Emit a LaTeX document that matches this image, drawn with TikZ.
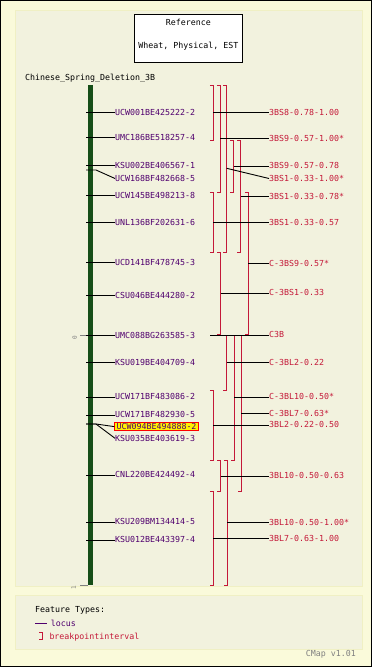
\documentclass[tikz,border=0pt]{standalone}
\usepackage{fontspec}
\setmonofont{DejaVu Sans Mono}
\definecolor{pagebg}{RGB}{250,250,218}
\definecolor{panelbg}{RGB}{242,242,222}
\definecolor{panelrim}{RGB}{240,240,196}
\definecolor{chromgreen}{RGB}{22,78,24}
\definecolor{locuscol}{RGB}{80,0,110}
\definecolor{intcol}{RGB}{196,24,56}
\begin{document}
\begin{tikzpicture}[
		x=1pt, y=-1pt,
		font=\ttfamily\fontsize{8.3}{9}\selectfont,
		txt/.style={inner sep=0pt, text height=5.5pt, text depth=0pt},
		locus/.style={txt, anchor=west, text=locuscol},
		interval/.style={txt, anchor=west, text=intcol},
		tie/.style={draw=black, line width=0.9pt},
		bpint/.style={draw=intcol, line width=0.9pt},
		scalemark/.style={draw=gray, line width=0.9pt}
	]
	\useasboundingbox (0,0) rectangle (372,667);
	% Hintergrund und Felder
	\draw[fill=pagebg, line width=1pt] (0.5,0.5) rectangle (371.5,666.5);
	\draw[fill=panelbg, draw=panelrim, line width=1pt] (15,10) rectangle (362,586);
	\draw[fill=panelbg, draw=panelrim, line width=1pt] (15,595) rectangle (362,649);

	% Titelkasten
	\draw[fill=white, line width=1pt] (134.3,14.3) rectangle (242.3,62.3);
	\node[txt] (ref) at (188.3,22.3) {Reference};
	\node[txt] (refmap) at (188.3,45.7) {Wheat, Physical, EST};
	\node[txt, anchor=west] (chrom) at (25,77.3) {Chinese\_Spring\_Deletion\_3B};

	% Chromosom
	\fill[chromgreen] (88.3,85) rectangle (92.7,585);
	\draw[scalemark] (80,335.3) -- (88.3,335.3);
	\draw[scalemark] (80,585) -- (88.3,585);
	\node[txt, rotate=90, text=gray, font=\ttfamily\fontsize{6}{7}\selectfont] (zero) at (74,338) {0};
	\node[txt, rotate=90, text=gray, font=\ttfamily\fontsize{6}{7}\selectfont] (one) at (73,588) {1};

	% Loci
	\node[locus] (l1) at (115,112.3) {UCW001BE425222-2};
	\node[locus] (l2) at (115,137.3) {UMC186BE518257-4};
	\node[locus] (l3) at (115,165.3) {KSU002BE406567-1};
	\node[locus] (l4) at (115,178.5) {UCW168BF482668-5};
	\node[locus] (l5) at (115,195.3) {UCW145BE498213-8};
	\node[locus] (l6) at (115,222.3) {UNL136BF202631-6};
	\node[locus] (l7) at (115,262.3) {UCD141BF478745-3};
	\node[locus] (l8) at (115,295.3) {CSU046BE444280-2};
	\node[locus] (l9) at (115,335.3) {UMC088BG263585-3};
	\node[locus] (l10) at (115,362.3) {KSU019BE404709-4};
	\node[locus] (l11) at (115,397) {UCW171BF483086-2};
	\node[locus] (l12) at (115,415) {UCW171BF482930-5};
	\node[locus, fill=yellow, draw=red, line width=0.9pt, inner xsep=1.8pt, inner ysep=1.4pt] (l13) at (114.3,426.6) {UCW094BE494888-2};
	\node[locus] (l14) at (115,438.3) {KSU035BE403619-3};
	\node[locus] (l15) at (115,475) {CNL220BE424492-4};
	\node[locus] (l16) at (115,522) {KSU209BM134414-5};
	\node[locus] (l17) at (115,540) {KSU012BE443397-4};

	\coordinate (t1) at (86,112.3);
	\coordinate (t2) at (86,137.3);
	\coordinate (t3) at (86,165.3);
	\coordinate (t4) at (86,170);
	\coordinate (t5) at (86,195.3);
	\coordinate (t6) at (86,222.3);
	\coordinate (t7) at (86,262.3);
	\coordinate (t8) at (86,295.3);
	\coordinate (t9) at (86,335.3);
	\coordinate (t10) at (86,362.3);
	\coordinate (t11) at (86,397);
	\coordinate (t12) at (86,415);
	\coordinate (t13) at (86,424);
	\coordinate (t14) at (86,424);
	\coordinate (t15) at (86,475);
	\coordinate (t16) at (86,522);
	\coordinate (t17) at (86,540);

	\draw[tie] (t1) -- (l1.west);
	\draw[tie] (t2) -- (l2.west);
	\draw[tie] (t3) -- (l3.west);
	\draw[tie] (t4) -- ++(10,0) -- (l4.west);
	\draw[tie] (t5) -- (l5.west);
	\draw[tie] (t6) -- (l6.west);
	\draw[tie] (t7) -- (l7.west);
	\draw[tie] (t8) -- (l8.west);
	\draw[tie] (t9) -- (l9.west);
	\draw[tie] (t10) -- (l10.west);
	\draw[tie] (t11) -- (l11.west);
	\draw[tie] (t12) -- (l12.west);
	\draw[tie] (t13) -- ++(10,0) -- (l13.west);
	\draw[tie] (t14) -- ++(10,0) -- (l14.west);
	\draw[tie] (t15) -- (l15.west);
	\draw[tie] (t16) -- (l16.west);
	\draw[tie] (t17) -- (l17.west);

	% Bruchpunkt-Intervalle
	\draw[bpint] (209.8,85.5) -- (213.3,85.5) -- (213.3,140.7) -- (209.8,140.7);
	\draw[bpint] (216.8,85.5) -- (220.3,85.5) -- (220.3,192) -- (216.8,192);
	\draw[bpint] (223.2,85.5) -- (226.7,85.5) -- (226.7,252.3) -- (223.2,252.3);
	\draw[bpint] (230.2,140.7) -- (233.7,140.7) -- (233.7,192) -- (230.2,192);
	\draw[bpint] (237.2,140.7) -- (240.7,140.7) -- (240.7,252.3) -- (237.2,252.3);
	\draw[bpint] (209.8,192) -- (213.3,192) -- (213.3,252.3) -- (209.8,252.3);
	\draw[bpint] (244.8,192.7) -- (248.3,192.7) -- (248.3,334.5) -- (244.8,334.5);
	\draw[bpint] (217.2,252.3) -- (220.7,252.3) -- (220.7,334.5) -- (217.2,334.5);
	\draw[bpint] (223.2,335.5) -- (226.7,335.5) -- (226.7,390.7) -- (223.2,390.7);
	\draw[bpint] (230.8,335.5) -- (234.3,335.5) -- (234.3,460) -- (230.8,460);
	\draw[bpint] (237.5,335.5) -- (241,335.5) -- (241,491.7) -- (237.5,491.7);
	\draw[bpint] (209.8,390.7) -- (213.3,390.7) -- (213.3,460) -- (209.8,460);
	\draw[bpint] (217.2,460.7) -- (220.7,460.7) -- (220.7,491.7) -- (217.2,491.7);
	\draw[bpint] (223.8,460.7) -- (227.3,460.7) -- (227.3,585.7) -- (223.8,585.7);
	\draw[bpint] (209.8,491.7) -- (213.3,491.7) -- (213.3,585.7) -- (209.8,585.7);

	\node[interval] (i1) at (269,112.3) {3BS8-0.78-1.00};
	\node[interval] (i2) at (269,138.3) {3BS9-0.57-1.00*};
	\node[interval] (i3) at (269,166) {3BS9-0.57-0.78};
	\node[interval] (i4) at (269,178.5) {3BS1-0.33-1.00*};
	\node[interval] (i5) at (269,196.7) {3BS1-0.33-0.78*};
	\node[interval] (i6) at (269,222.3) {3BS1-0.33-0.57};
	\node[interval] (i7) at (269,263.3) {C-3BS9-0.57*};
	\node[interval] (i8) at (269,293) {C-3BS1-0.33};
	\node[interval] (i9) at (269,335) {C3B};
	\node[interval] (i10) at (269,362.5) {C-3BL2-0.22};
	\node[interval] (i11) at (269,397) {C-3BL10-0.50*};
	\node[interval] (i12) at (269,413.5) {C-3BL7-0.63*};
	\node[interval] (i13) at (269,425) {3BL2-0.22-0.50};
	\node[interval] (i14) at (269,476.2) {3BL10-0.50-0.63};
	\node[interval] (i15) at (269,522.5) {3BL10-0.50-1.00*};
	\node[interval] (i16) at (269,538.5) {3BL7-0.63-1.00};

	\coordinate (b1) at (213.3,112.3);
	\coordinate (b2) at (220.3,138.3);
	\coordinate (b3) at (233.7,166);
	\coordinate (b4) at (226.7,168.3);
	\coordinate (b5) at (240.7,196.7);
	\coordinate (b6) at (213.3,222.3);
	\coordinate (b7) at (248.3,263.3);
	\coordinate (b8) at (220.7,293);
	\coordinate (b9) at (210,335);
	\coordinate (b10) at (226.7,362.5);
	\coordinate (b11) at (234.3,397);
	\coordinate (b12) at (241,413.5);
	\coordinate (b13) at (213.3,425);
	\coordinate (b14) at (220.7,476.2);
	\coordinate (b15) at (227.3,522.5);
	\coordinate (b16) at (213.3,538.5);

	\draw[tie] (b1) -- (i1.west);
	\draw[tie] (b2) -- (i2.west);
	\draw[tie] (b3) -- (i3.west);
	\draw[tie] (b4) -- (i4.west);
	\draw[tie] (b5) -- (i5.west);
	\draw[tie] (b6) -- (i6.west);
	\draw[tie] (b7) -- (i7.west);
	\draw[tie] (b8) -- (i8.west);
	\draw[tie] (b9) -- (i9.west);
	\draw[tie] (b10) -- (i10.west);
	\draw[tie] (b11) -- (i11.west);
	\draw[tie] (b12) -- (i12.west);
	\draw[tie] (b13) -- (i13.west);
	\draw[tie] (b14) -- (i14.west);
	\draw[tie] (b15) -- (i15.west);
	\draw[tie] (b16) -- (i16.west);

	% Legende
	\node[txt, anchor=west] (ftypes) at (35,609.3) {Feature Types:};
	\node[locus] (leglocus) at (50.7,623.3) {locus};
	\coordinate (legline) at (35,623);
	\draw[draw=locuscol, line width=0.9pt] (legline) -- ++(12,0);
	\draw[bpint] (39,632.7) -- (42.3,632.7) -- (42.3,639) -- (39,639);
	\node[interval] (legint) at (49.3,636.3) {breakpointinterval};
	\node[txt, anchor=east, text=gray] (version) at (356,653.3) {CMap v1.01};
\end{tikzpicture}
\end{document}
